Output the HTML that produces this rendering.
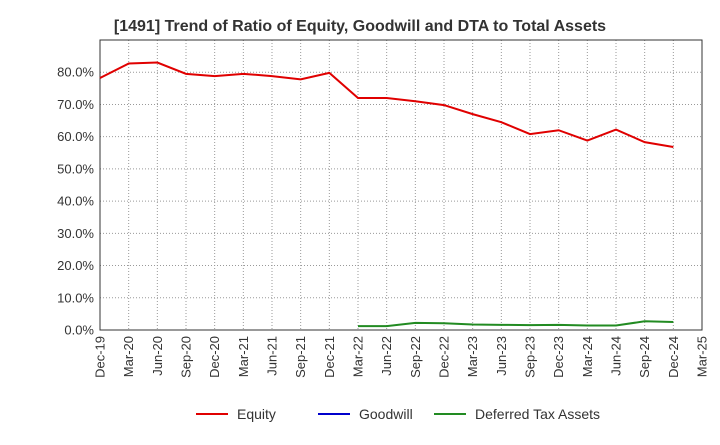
<!DOCTYPE html>
<html><head><meta charset="utf-8"><style>
body{margin:0;background:#fff;font-family:"Liberation Sans",Arial,sans-serif}
</style></head><body>
<svg width="720" height="440" xmlns="http://www.w3.org/2000/svg">
<text x="360" y="31" text-anchor="middle" font-size="16" font-weight="bold" fill="#333">[1491]  Trend of Ratio of Equity, Goodwill and DTA to Total Assets</text>
<g id="grid"></g>
<rect x="100" y="40" width="602" height="290" fill="none" stroke="#333"/>
<g id="axes"></g>
<g id="series"></g>
<g font-size="14" fill="#333">
<line x1="196" y1="414" x2="228" y2="414" stroke="#e00000" stroke-width="2"/>
<text x="237" y="419">Equity</text>
<line x1="318" y1="414" x2="350" y2="414" stroke="#0000cc" stroke-width="2"/>
<text x="359" y="419">Goodwill</text>
<line x1="434" y1="414" x2="466" y2="414" stroke="#228b22" stroke-width="2"/>
<text x="475" y="419">Deferred Tax Assets</text>
</g>
</svg>
<script>
const xLabels=["Dec-19","Mar-20","Jun-20","Sep-20","Dec-20","Mar-21","Jun-21","Sep-21","Dec-21","Mar-22","Jun-22","Sep-22","Dec-22","Mar-23","Jun-23","Sep-23","Dec-23","Mar-24","Jun-24","Sep-24","Dec-24","Mar-25"];
const yTicks=[0,10,20,30,40,50,60,70,80];
const equity=[78.2,82.7,83.0,79.5,78.8,79.5,78.8,77.8,79.8,72.0,72.0,71.0,69.8,67.0,64.5,60.8,62.0,58.8,62.2,58.3,56.8];
const goodwill=[];
const dtaStart=9;
const dta=[1.2,1.2,2.2,2.1,1.7,1.6,1.5,1.6,1.4,1.4,2.7,2.5];
const NS="http://www.w3.org/2000/svg";
const X=i=>100+i*(602/21), Y=v=>330-v*(290/90);
function mk(t,a,p){const e=document.createElementNS(NS,t);for(const k in a)e.setAttribute(k,a[k]);p.appendChild(e);return e;}
const g=document.getElementById('grid'),ax=document.getElementById('axes'),s=document.getElementById('series');
xLabels.forEach((l,i)=>{const x=X(i);
 if(i>0&&i<21){const ln=mk('line',{x1:x,y1:40,x2:x,y2:330,stroke:'#999','stroke-dasharray':'1,2'},g);}
 const t=mk('text',{transform:`translate(${x+4.5},336) rotate(-90)`,'text-anchor':'end','font-size':13,fill:'#333'},ax);t.textContent=l;
 
});
yTicks.forEach(v=>{const y=Y(v);
 if(v>0){const ln=mk('line',{x1:100,y1:y,x2:702,y2:y,stroke:'#999','stroke-dasharray':'1,2'},g);}
 const t=mk('text',{x:94,y:y+4.5,'text-anchor':'end','font-size':13,fill:'#333'},ax);t.textContent=v.toFixed(1)+'%';
 
});
function line(vals,off,col,name){if(!vals.length)return;const p=mk('polyline',{points:vals.map((v,i)=>X(i+off)+','+Y(v)).join(' '),fill:'none',stroke:col,'stroke-width':2},s);
 }
line(equity,0,'#e00000','equity-line');
line(goodwill,0,'#0000cc','goodwill-line');
line(dta,dtaStart,'#228b22','dta-line');
</script>
</body></html>
